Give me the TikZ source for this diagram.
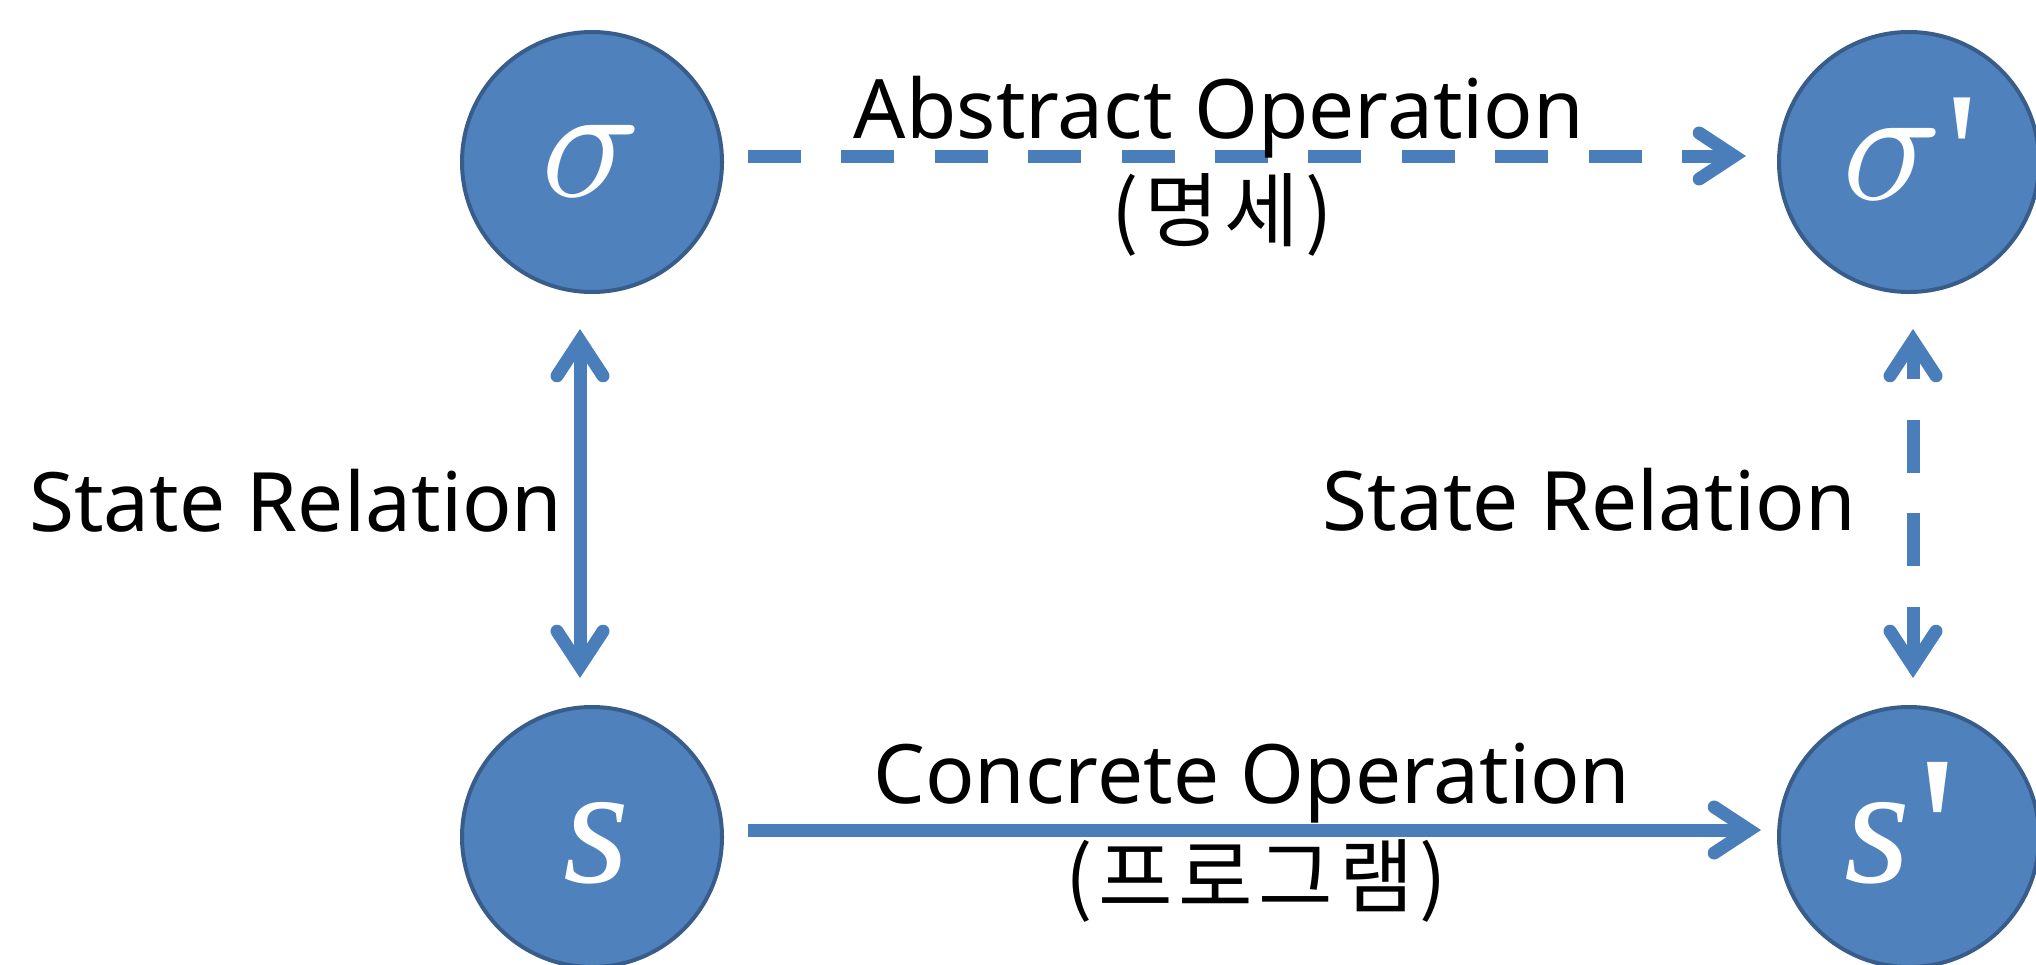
\documentclass[tikz,border=0pt]{standalone}
\usepackage{fontspec}
\setmainfont{Noto Sans}
\newfontfamily\krfont{Noto Sans CJK KR}[LetterSpace=7]
\newfontfamily\varfont{Liberation Serif}
\usetikzlibrary{arrows.meta}
\definecolor{fillblue}{HTML}{4F81BD}
\definecolor{edgeblue}{HTML}{385D8A}
\definecolor{arrowblue}{HTML}{4A7EBB}
% #1 kern before, #2 font size, #3 vertical shift
\newcommand{\primemark}[3]{\hspace{#1}\raisebox{#3}{\varfont\upshape\fontsize{#2}{#2}\selectfont\XeTeXglyph\XeTeXcharglyph"0027\relax}}
\newcommand{\bigsigma}{\scalebox{16.5}{$\sigma$}}
\begin{document}
\begin{tikzpicture}[x=1pt,y=-1pt,
  state/.style={circle, fill=fillblue, draw=edgeblue, line width=4pt, minimum size=260pt, inner sep=0pt, outer sep=0pt},
  var/.style={text=white, font=\normalsize, anchor=base, inner sep=0pt},
  bigvar/.style={var, font=\varfont\itshape\fontsize{170}{170}\selectfont},
  conn/.style={draw=arrowblue, line width=13pt},
  dashline/.style={dash pattern=on 53pt off 40.4pt},
  barb/.tip={Straight Barb[length=35pt,width=46pt,line cap=round,line join=miter]},
  lbl/.style={font=\fontsize{82}{98}\selectfont, anchor=base, inner sep=0pt},
  krlbl/.style={lbl, font=\krfont\fontsize{81}{97}\selectfont},
]
\path[use as bounding box] (0,0) rectangle (2036,964);
\clip (0,0) rectangle (2036,964);

\node[state] (sig) at (592,162) {};
\node[state] (sigp) at (1909,162) {};
\node[state] (s) at (592,837) {};
\node[state] (sp) at (1909,837) {};

\node[var] (sigt) at (592,196) {\bigsigma};
\node[var] (sigpt) at (1910,199) {\bigsigma\primemark{4pt}{175pt}{-13pt}};
\node[bigvar] (st) at (597,882) {s};
\node[bigvar] (spt) at (1901,882) {s\primemark{8pt}{214pt}{-20pt}};

\draw[conn, dashline, -barb, shorten <=26pt, shorten >=33pt]
  ([yshift=6pt]sig.east) -- ([yshift=6pt]sigp.west);
\draw[conn, -barb, shorten <=26pt, shorten >=18pt]
  ([yshift=7pt]s.east) -- ([yshift=7pt]sp.west);
\draw[conn, barb-barb, shorten <=37pt, shorten >=29pt]
  ([xshift=-12pt]sig.south) -- ([xshift=-12pt]s.north);
\draw[conn, dashline, barb-barb, shorten <=29pt, shorten >=37pt]
  ([xshift=4pt]sp.north) -- ([xshift=4pt]sigp.south);

\node[lbl] (absA) at (1219,138) {Abstract Operation};
\node[krlbl] (absB) at (1222,240) {(명세)};
\node[lbl] (conA) at (1252,803) {Concrete Operation};
\node[krlbl] (conB) at (1256,906) {(프로그램)};
\node[lbl, anchor=base west] (srL) at (29,531) {State Relation};
\node[lbl, anchor=base east] (srR) at (1856,530) {State Relation};
\end{tikzpicture}
\end{document}
